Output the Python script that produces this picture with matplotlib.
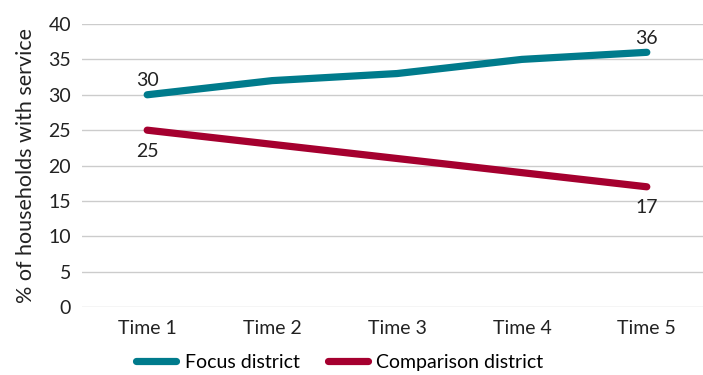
import matplotlib
matplotlib.use("Agg")
from matplotlib import pyplot as plt

plt.rcParams['font.family'] = ['Lato', 'DejaVu Sans']

times = ["Time 1", "Time 2", "Time 3", "Time 4", "Time 5"]
focus = [30, 32, 33, 35, 36]
comparison = [25, 23, 21, 19, 17]

teal = '#007B8C'
crimson = '#A5002F'
fs = 14
ink = '#222222'

fig = plt.figure(figsize=(7.03, 3.75), dpi=100)
ax = fig.add_axes([0.117, 0.181, 0.883, 0.755])

x = range(len(times))
ax.plot(x, focus, color=teal, lw=5.2, solid_capstyle='round', label='Focus district', zorder=3)
ax.plot(x, comparison, color=crimson, lw=5.2, solid_capstyle='round', label='Comparison district', zorder=3)

# end-point labels
for i in (0, 4):
    ax.annotate(str(focus[i]), (i, focus[i]), xytext=(0, 4), textcoords='offset points',
                ha='center', va='bottom', fontsize=fs, color=ink)
    ax.annotate(str(comparison[i]), (i, comparison[i]), xytext=(0, -9), textcoords='offset points',
                ha='center', va='top', fontsize=fs, color=ink)

ax.set_xlim(-0.52, 4.45)
ax.set_ylim(0, 40)
ax.set_yticks(range(0, 41, 5))
ax.set_xticks(list(x))
ax.set_xticklabels(times)
ax.grid(axis='y', color='#CCCCCC', lw=1)
ax.set_axisbelow(True)
for s in ax.spines.values():
    s.set_visible(False)
ax.tick_params(axis='both', length=0, labelsize=fs, colors=ink, pad=8)
ax.tick_params(axis='x', pad=9)
ax.set_ylabel('% of households with service', fontsize=15.5, color=ink, labelpad=9)

ax.legend(loc='center', bbox_to_anchor=(0.415, -0.194), ncol=2, frameon=False,
          fontsize=fs, handlelength=2.05, columnspacing=1.45, handletextpad=0.45,
          borderaxespad=0)

fig.savefig('out.png', dpi=100)
